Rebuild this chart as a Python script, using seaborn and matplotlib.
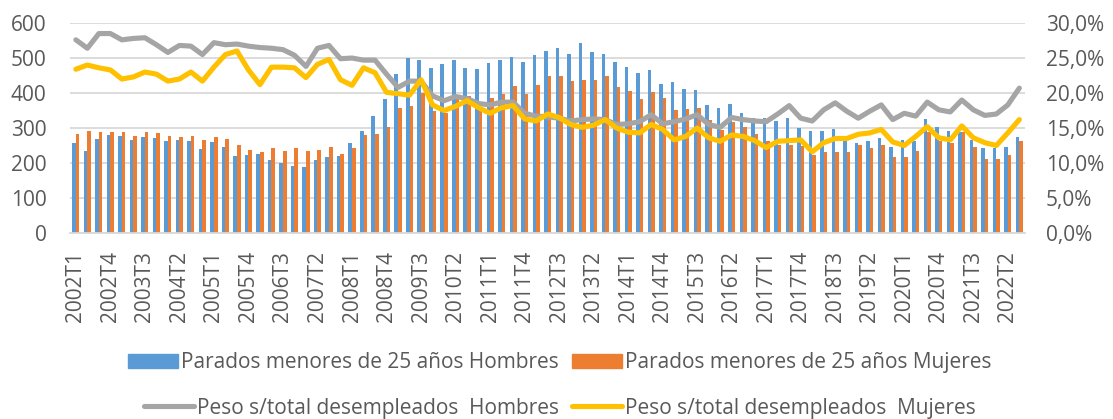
import numpy as np
import pandas as pd
import seaborn as sns
import matplotlib.pyplot as plt
from matplotlib.patches import Patch
from matplotlib.lines import Line2D
from matplotlib.ticker import FuncFormatter

# trimestres 2002T1 .. 2022T3
trimestres = [f"{a}T{t}" for a in range(2002, 2023) for t in range(1, 5)][:83]

# parados menores de 25 anos (miles)
hombres = [257, 234, 270, 281, 278, 267, 275, 271, 264, 265, 262, 241, 261, 245, 219, 223,
           226, 209, 201, 190, 189, 209, 216, 221, 257, 292, 333, 384, 455, 499, 493, 472,
           484, 495, 472, 470, 486, 493, 503, 490, 508, 520, 530, 511, 543, 518, 511, 490,
           475, 458, 467, 427, 431, 412, 409, 365, 356, 369, 343, 330, 329, 321, 328, 299,
           292, 291, 297, 263, 257, 264, 272, 245, 267, 262, 327, 303, 291, 290, 267, 242,
           243, 246, 275]
mujeres = [284, 292, 290, 288, 289, 278, 289, 286, 277, 275, 278, 266, 274, 268, 251, 237,
           230, 243, 235, 244, 234, 236, 245, 227, 243, 281, 284, 304, 358, 363, 399, 348,
           342, 390, 391, 355, 387, 398, 420, 396, 422, 448, 450, 435, 438, 437, 450, 418,
           407, 383, 402, 387, 351, 354, 357, 324, 295, 318, 304, 284, 263, 252, 250, 249,
           222, 231, 230, 231, 250, 242, 252, 217, 218, 233, 288, 263, 258, 288, 245, 210,
           210, 224, 264]

# peso sobre el total de desempleados (%)
peso_hombres = [27.6, 26.4, 28.5, 28.5, 27.6, 27.8, 27.9, 26.9, 25.8, 26.8, 26.7, 25.5, 27.2,
                26.9, 27.0, 26.7, 26.5, 26.4, 26.2, 25.4, 23.8, 26.4, 26.8, 24.9, 25.0, 24.7,
                24.7, 22.7, 20.8, 21.7, 21.7, 19.6, 18.9, 19.5, 19.2, 18.5, 18.3, 18.7, 18.7,
                17.1, 16.7, 16.6, 16.4, 16.0, 16.2, 16.3, 16.2, 15.5, 15.6, 15.9, 16.9, 15.6,
                15.9, 16.3, 16.9, 15.5, 15.1, 16.5, 16.2, 16.0, 15.9, 17.0, 18.2, 16.4, 16.0,
                17.6, 18.6, 17.4, 16.4, 17.4, 18.3, 16.2, 17.1, 16.7, 18.7, 17.6, 17.3, 19.0,
                17.6, 16.8, 17.0, 18.3, 20.7]
peso_mujeres = [23.4, 24.0, 23.6, 23.3, 22.0, 22.3, 23.0, 22.7, 21.7, 22.0, 23.0, 21.7, 23.7,
                25.5, 26.0, 23.3, 21.2, 23.7, 23.7, 23.6, 22.2, 24.1, 24.8, 21.9, 21.1, 23.6,
                22.9, 20.1, 19.9, 19.7, 21.9, 18.3, 17.5, 18.1, 18.9, 17.9, 17.1, 17.9, 18.2,
                16.3, 16.0, 17.0, 16.5, 15.5, 15.1, 15.4, 16.2, 15.0, 14.4, 14.3, 15.5, 14.8,
                13.3, 13.8, 15.0, 13.6, 13.1, 14.0, 13.8, 13.2, 12.2, 13.1, 13.2, 13.3, 11.6,
                12.9, 13.5, 13.5, 14.1, 14.3, 14.8, 13.0, 12.5, 13.8, 15.2, 13.6, 13.3, 15.3,
                13.6, 12.9, 12.5, 14.3, 16.2]

lbl_h = "Parados menores de 25 años Hombres"
lbl_m = "Parados menores de 25 años Mujeres"
lbl_ph = "Peso s/total desempleados  Hombres"
lbl_pm = "Peso s/total desempleados  Mujeres"

azul, naranja, gris, amarillo = "#5B9BD5", "#ED7D31", "#A5A5A5", "#FFC000"
texto = "#595959"

barras = pd.DataFrame({
    "trimestre": trimestres * 2,
    "valor": hombres + mujeres,
    "serie": [lbl_h] * len(hombres) + [lbl_m] * len(mujeres),
})
pos = np.arange(len(trimestres))

sns.set_style("white")
plt.rcParams["font.family"] = ["Open Sans", "DejaVu Sans"]

fig, ax = plt.subplots(figsize=(11.13, 4.19), dpi=100)
fig.subplots_adjust(left=0.063, right=0.921, top=0.945, bottom=0.444)

sns.barplot(data=barras, x="trimestre", y="valor", hue="serie", hue_order=[lbl_h, lbl_m],
            palette=[azul, naranja], width=0.62, saturation=1, linewidth=0,
            legend=False, ax=ax)
ax.set_ylim(0, 600)
ax.set_xlim(-0.5, len(trimestres) - 0.5)
ax.set_yticks(range(0, 601, 100))
ax.yaxis.grid(True, color="#D9D9D9", linewidth=1.3)
ax.set_axisbelow(True)
ax.set_xlabel("")
ax.set_ylabel("")
ax.set_xticks(pos[::3])
ax.set_xticklabels(trimestres[::3], rotation=90)
ax.tick_params(axis="both", length=0, colors=texto)
ax.tick_params(axis="y", labelsize=15, pad=17)
ax.tick_params(axis="x", labelsize=15, pad=13)
for s in ["top", "right", "left"]:
    ax.spines[s].set_visible(False)
ax.spines["bottom"].set_color("#D9D9D9")
ax.spines["bottom"].set_linewidth(1.3)

ax2 = ax.twinx()
sns.lineplot(x=pos, y=np.array(peso_hombres) / 100, color=gris, linewidth=3.7, ax=ax2)
sns.lineplot(x=pos, y=np.array(peso_mujeres) / 100, color=amarillo, linewidth=3.7, ax=ax2)
ax2.set_ylim(0, 0.30)
ax2.set_yticks(np.arange(0, 0.301, 0.05))
ax2.yaxis.set_major_formatter(FuncFormatter(lambda v, p: f"{v * 100:.1f}%".replace(".", ",")))
ax2.tick_params(axis="y", length=0, labelsize=15, colors=texto, pad=15)
for s in ax2.spines.values():
    s.set_visible(False)
ax2.set_ylabel("")

fila1 = [Patch(color=azul), Patch(color=naranja)]
fila2 = [Line2D([], [], color=gris, linewidth=3.7), Line2D([], [], color=amarillo, linewidth=3.7)]
for handles, labels, y in [(fila1, [lbl_h, lbl_m], 0.134), (fila2, [lbl_ph, lbl_pm], 0.026)]:
    leg = fig.legend(handles, labels, loc="center", bbox_to_anchor=(0.503, y), ncol=2,
                     frameon=False, fontsize=15, handlelength=2.4, handletextpad=0.15,
                     columnspacing=0.6)
    for t in leg.get_texts():
        t.set_color(texto)

fig.savefig("out.png", dpi=100)
